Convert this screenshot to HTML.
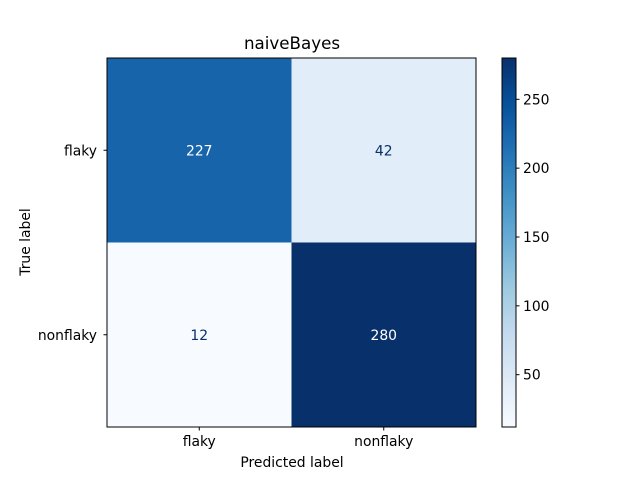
<!DOCTYPE html>
<html><head><meta charset="utf-8"><style>
body{margin:0;background:#fff;}
svg text{font-family:"DejaVu Sans","Liberation Sans",sans-serif;}
</style></head><body>
<svg id="chart" width="640" height="480" xmlns="http://www.w3.org/2000/svg">
<defs><linearGradient id="blues" x1="0" y1="1" x2="0" y2="0">
<stop offset="0" stop-color="#f7fbff"/><stop offset="0.125" stop-color="#deebf7"/><stop offset="0.25" stop-color="#c6dbef"/><stop offset="0.375" stop-color="#9ecae1"/><stop offset="0.5" stop-color="#6baed6"/><stop offset="0.625" stop-color="#4292c6"/><stop offset="0.75" stop-color="#2171b5"/><stop offset="0.875" stop-color="#08519c"/><stop offset="1" stop-color="#08306b"/>
</linearGradient></defs>
<text x="292" y="49" font-size="16.7" text-anchor="middle">naiveBayes</text>
<g id="cells"></g>
<rect x="107" y="58" width="369" height="369" fill="none" stroke="#000" stroke-width="1"/>
<g id="axes"></g>
<text x="292" y="467" font-size="13.9" text-anchor="middle">Predicted label</text>
<text x="30" y="242" font-size="13.9" text-anchor="middle" transform="rotate(-90 30 242)">True label</text>
<rect x="502" y="58" width="14" height="369" fill="url(#blues)" stroke="#000" stroke-width="1"/>
<g id="cbticks"></g>
</svg>
<script>
const predictedLabels = ["flaky","nonflaky"];
const trueLabels = ["flaky","nonflaky"];
const matrixValues = [[227,42],[12,280]];
const colorbarTicks = [50,100,150,200,250];

const NS="http://www.w3.org/2000/svg";
const stops=["#f7fbff","#deebf7","#c6dbef","#9ecae1","#6baed6","#4292c6","#2171b5","#08519c","#08306b"];
const flat=matrixValues.flat();
const vmin=Math.min(...flat), vmax=Math.max(...flat);
function hex(h){return [1,3,5].map(i=>parseInt(h.substr(i,2),16));}
function cmap(v){let t=(v-vmin)/(vmax-vmin);t=Math.max(0,Math.min(1,t))*8;let i=Math.min(7,Math.floor(t));let f=t-i;
 const a=hex(stops[i]),b=hex(stops[i+1]);return "rgb("+a.map((c,k)=>Math.round(c+(b[k]-c)*f)).join(",")+")";}
const x0=107,y0=58,W=369,H=369;
const cw=W/predictedLabels.length, ch=H/trueLabels.length;
const xc=j=>x0+cw*(j+0.5), yc=i=>y0+ch*(i+0.5);
function mk(tag,attrs,parent){const e=document.createElementNS(NS,tag);for(const k in attrs)e.setAttribute(k,attrs[k]);parent.appendChild(e);return e;}
const cells=document.getElementById("cells"), axes=document.getElementById("axes"), cb=document.getElementById("cbticks");
const mid=(vmin+vmax)/2;
matrixValues.forEach((row,i)=>row.forEach((v,j)=>{
 const r=mk("rect",{x:x0+cw*j,y:y0+ch*i,width:cw,height:ch,fill:cmap(v)},cells);
 
 
 const t=mk("text",{x:xc(j),y:yc(i)+5,"font-size":13.9,"text-anchor":"middle",fill:v>mid?"#fff":"#08306b"},cells);
 t.textContent=v;
 
 
}));
predictedLabels.forEach((l,j)=>{
 mk("line",{x1:xc(j),x2:xc(j),y1:427,y2:430.5,stroke:"#000"},axes);
 const t=mk("text",{x:xc(j),y:446,"font-size":13.9,"text-anchor":"middle"},axes);t.textContent=l;
 
 
});
trueLabels.forEach((l,i)=>{
 mk("line",{x1:103.5,x2:107,y1:yc(i),y2:yc(i),stroke:"#000"},axes);
 const t=mk("text",{x:97,y:yc(i)+5,"font-size":13.9,"text-anchor":"end"},axes);t.textContent=l;
 
 
});
const cy=v=>427-(v-vmin)/(vmax-vmin)*369;
colorbarTicks.forEach(v=>{
 mk("line",{x1:516,x2:519.5,y1:cy(v),y2:cy(v),stroke:"#000"},cb);
 const t=mk("text",{x:523,y:cy(v)+5,"font-size":13.9},cb);t.textContent=v;
 
 
});
</script>
</body></html>
